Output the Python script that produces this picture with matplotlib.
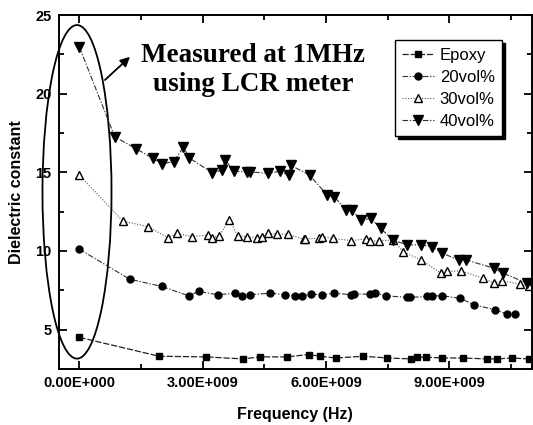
import matplotlib
matplotlib.use("Agg")
import matplotlib.pyplot as plt
from matplotlib.patches import Ellipse
import numpy as np

# ---------------- data ----------------
epoxy_x = [0.0, 1.94, 3.07, 3.98, 4.39, 5.05, 5.58, 5.86, 6.24, 6.91, 7.49,
           8.07, 8.21, 8.44, 8.83, 9.33, 9.92, 10.15, 10.52, 10.93]
epoxy_y = [4.51, 3.31, 3.27, 3.14, 3.27, 3.27, 3.42, 3.31, 3.20, 3.31, 3.20,
           3.14, 3.25, 3.25, 3.20, 3.20, 3.14, 3.14, 3.20, 3.14]

v20_x = [0.0, 1.22, 2.00, 2.66, 2.90, 3.36, 3.79, 3.95, 4.16, 4.64, 5.00,
         5.25, 5.41, 5.64, 5.91, 6.20, 6.61, 6.69, 7.06, 7.19, 7.47, 7.97,
         8.05, 8.46, 8.58, 8.83, 9.26, 9.60, 10.11, 10.40, 10.60]
v20_y = [10.11, 8.21, 7.75, 7.15, 7.43, 7.22, 7.32, 7.11, 7.22, 7.32, 7.22,
         7.15, 7.15, 7.26, 7.22, 7.32, 7.22, 7.26, 7.26, 7.32, 7.15, 7.05,
         7.05, 7.11, 7.15, 7.15, 7.00, 6.58, 6.27, 5.99, 5.99]

v30_x = [0.0, 1.05, 1.67, 2.15, 2.37, 2.74, 3.13, 3.23, 3.40, 3.65, 3.85,
         4.08, 4.32, 4.43, 4.59, 4.80, 5.07, 5.46, 5.50, 5.83, 5.91, 6.16,
         6.61, 6.98, 7.06, 7.29, 7.64, 7.87, 8.32, 8.79, 8.95, 9.28, 9.82,
         10.09, 10.27, 10.73, 10.93]
v30_y = [14.82, 11.91, 11.55, 10.85, 11.12, 10.91, 11.02, 10.85, 10.98, 11.97,
         10.96, 10.91, 10.85, 10.91, 11.12, 11.06, 11.08, 10.74, 10.77, 10.80,
         10.91, 10.80, 10.66, 10.77, 10.64, 10.64, 10.70, 9.96, 9.43, 8.60,
         8.70, 8.74, 8.27, 7.96, 8.10, 7.90, 7.75]

v40_x = [0.0, 0.86, 1.38, 1.79, 2.02, 2.29, 2.53, 2.67, 3.23, 3.48, 3.54,
         3.75, 4.08, 4.16, 4.59, 4.88, 5.09, 5.14, 5.60, 6.03, 6.20, 6.49,
         6.63, 6.85, 7.09, 7.33, 7.62, 7.97, 8.30, 8.58, 8.83, 9.23, 9.41,
         10.09, 10.30, 10.89]
v40_y = [22.95, 17.25, 16.50, 15.88, 15.56, 15.67, 16.60, 15.92, 14.97, 15.14,
         15.81, 15.07, 15.03, 15.03, 14.93, 15.07, 14.82, 15.45, 14.82, 13.55,
         13.45, 12.60, 12.60, 11.97, 12.07, 11.44, 10.70, 10.39, 10.39, 10.28,
         9.86, 9.43, 9.43, 8.90, 8.60, 7.96]

labels = ["Epoxy", "20vol%", "30vol%", "40vol%"]
xtick_vals = [0.0, 3e9, 6e9, 9e9]
xtick_labels = ["0.00E+000", "3.00E+009", "6.00E+009", "9.00E+009"]
ytick_vals = [5, 10, 15, 20, 25]
annotation = "Measured at 1MHz\nusing LCR meter"

GHZ = 1e9
# ---------------- plot ----------------
fig = plt.figure(figsize=(5.33, 4.25), dpi=100)
ax = fig.add_axes([58.5/533, 1 - 369/425, 473/533, 354/425])

dashdot = (0, (5, 1.5, 1.2, 1.5))
lc = "#333333"
ax.plot(np.array(epoxy_x)*GHZ, epoxy_y, linestyle=(0, (5, 1.5)), color="#222222", lw=0.9,
        marker="s", ms=4.8, mfc="black", mec="black", label=labels[0])
ax.plot(np.array(v20_x)*GHZ, v20_y, linestyle=dashdot, color=lc, lw=0.8,
        marker="o", ms=5, mfc="black", mec="black", label=labels[1])
ax.plot(np.array(v30_x)*GHZ, v30_y, linestyle=(0, (1, 1.5)), color="#555555", lw=0.8,
        marker="^", ms=6, mfc="white", mec="black", mew=1.0, label=labels[2])
ax.plot(np.array(v40_x)*GHZ, v40_y, linestyle=dashdot, color=lc, lw=0.8,
        marker="v", ms=6.5, mfc="black", mec="black", label=labels[3])

ax.set_xlim(-0.51e9, 11.0e9)
ax.set_ylim(2.55, 25)
ax.set_xticks(xtick_vals)
ax.set_xticklabels(xtick_labels)
ax.set_xticks(np.arange(1.5e9, 11e9, 3e9), minor=True)
ax.set_yticks(ytick_vals)
ax.set_yticks([2.5, 7.5, 12.5, 17.5, 22.5], minor=True)

fam = ["Liberation Sans", "DejaVu Sans"]
for lab in ax.get_xticklabels() + ax.get_yticklabels():
    lab.set_fontfamily(fam)
    lab.set_fontweight("bold")
    lab.set_fontsize(10.5)

ax.tick_params(which="both", direction="in", top=True, right=True, width=1.3)
ax.tick_params(which="major", length=6, pad=5)
ax.tick_params(which="minor", length=3.5)
for sp in ax.spines.values():
    sp.set_linewidth(1.4)

ax.set_xlabel("Frequency (Hz)", family=fam, fontsize=11.5, fontweight="bold", labelpad=12)
ax.set_ylabel("Dielectric constant", family=fam, fontsize=11.5, fontweight="bold", labelpad=8)

# ellipse annotation
ell = Ellipse((-0.06e9, 13.76), width=1.68e9, height=21.2, fill=False,
              edgecolor="black", lw=1.3, clip_on=False)
ax.add_patch(ell)
ax.annotate("", xy=(1.28e9, 22.46), xytext=(0.57e9, 20.75),
            arrowprops=dict(arrowstyle="-|>", color="black", lw=1.3, mutation_scale=14))
ax.text(4.23e9, 21.5, annotation, ha="center", va="center",
        family=["Liberation Serif", "DejaVu Serif"], fontweight="bold", fontsize=19.5)

leg = ax.legend(loc="upper left", bbox_to_anchor=(0.711, 0.929), frameon=True,
                fancybox=False, edgecolor="black", framealpha=1,
                prop={"family": fam, "size": 12}, handlelength=1.9,
                labelspacing=0.42, borderpad=0.45, handletextpad=0.35,
                borderaxespad=0, shadow={"color": "black", "alpha": 1})
leg.get_frame().set_linewidth(1.0)

fig.savefig("out.png", dpi=100)
